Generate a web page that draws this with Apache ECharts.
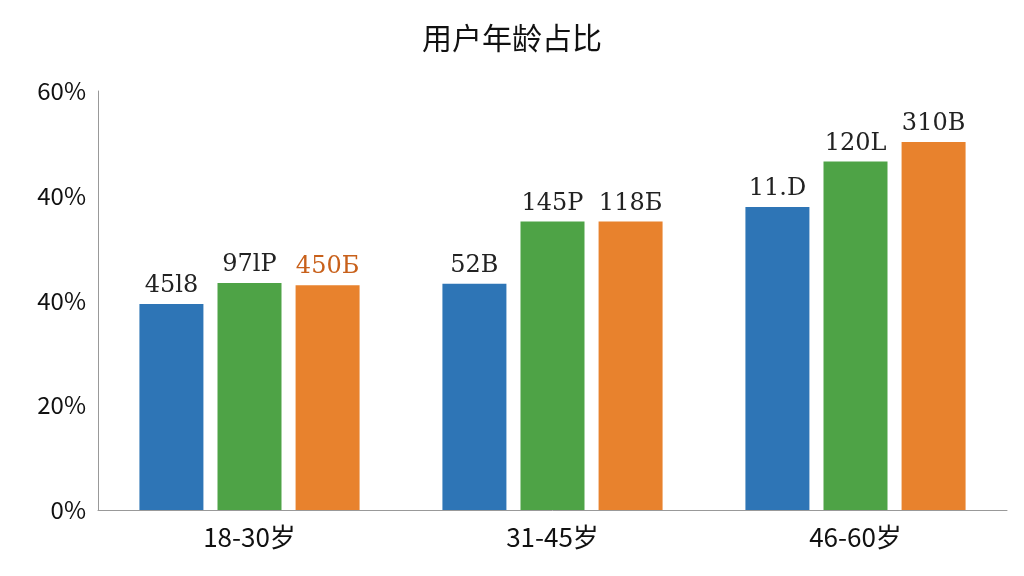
<!DOCTYPE html>
<html><head><meta charset="utf-8">
<script src="https://cdn.jsdelivr.net/npm/echarts@6/dist/echarts.min.js"></script>
<style>html,body{margin:0;padding:0;background:#fff}#c{width:1024px;height:576px}</style>
</head><body><div id="c"></div>
<script>
const categories = ['18-30岁','31-45岁','46-60岁'];
const blueValues = [29.5, 32.4, 43.4];
const greenValues = [32.5, 41.3, 49.9];
const orangeValues = [32.2, 41.3, 52.7];
const blueLabels = ['45l8','52B','11.D'];
const greenLabels = ['97lP','145P','120L'];
const orangeLabels = ['450Б','118Б','310B'];
const yTickLabels = ['0%','20%','40%','40%','60%'];

const font = '"Noto Sans CJK SC","Noto Sans",sans-serif';
function mk(name, data, labels, color, labelColors){
  return {name, type:'bar', data, barWidth:64, barGap:'22%',
    itemStyle:{color},
    label:{show:true, position:'top', distance:6, fontSize:24, fontFamily:'DejaVu Serif, serif',
      formatter:p=>labels[p.dataIndex],
      rich:{}, color:'#222'}};
}
const s3 = mk('c', orangeValues, orangeLabels, '#e8822d');
s3.data = orangeValues.map((v,i)=>({value:v, label:{color: i===0?'#c8601a':'#222'}}));
const chart = echarts.init(document.getElementById('c'));
chart.setOption({
  animation:false,
  title:{text:'用户年龄占比', left:'center', top:18, textStyle:{fontSize:30, fontWeight:'normal', color:'#111', fontFamily:font}},
  grid:{left:98, right:17, top:91, bottom:66},
  xAxis:{type:'category', data:categories,
    axisLine:{lineStyle:{color:'#999'}}, axisTick:{show:false},
    axisLabel:{fontSize:26, color:'#111', margin:14, fontFamily:font}},
  yAxis:{type:'value', min:0, max:60, interval:15,
    axisLine:{show:true, lineStyle:{color:'#999'}}, axisTick:{show:false}, splitLine:{show:false},
    axisLabel:{fontSize:24, color:'#111', margin:12, fontFamily:font,
      formatter:(v)=>yTickLabels[Math.round(v/15)]}},
  series:[mk('a', blueValues, blueLabels, '#2e75b6'), mk('b', greenValues, greenLabels, '#4ea346'), s3]
});
</script></body></html>
